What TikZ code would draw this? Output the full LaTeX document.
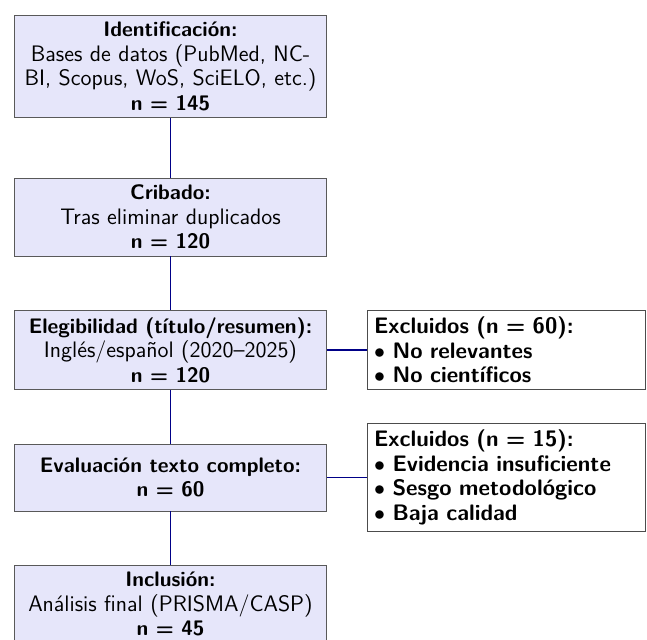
\documentclass[tikz,border=0pt]{standalone}
\usepackage{fontspec}
\usetikzlibrary{positioning}
\renewcommand{\familydefault}{\sfdefault}

\definecolor{stagefill}{RGB}{230,230,250}
\definecolor{linkblue}{RGB}{0,0,135}

\NewDocumentCommand{\bhead}{m}{{\fontsize{10.5}{12.3}\selectfont\bfseries #1}}

\tikzset{
  stage/.style={draw=black!65, fill=stagefill, text width=149.4pt, align=center,
    minimum height=33.5pt, font=\fontsize{11.2}{12.3}\selectfont},
  excl/.style={draw=black!70, fill=white, text width=132.4pt, align=left,
    font=\fontsize{11.2}{12.3}\selectfont\bfseries},
  link/.style={draw=linkblue, thick},
}

\begin{document}
\begin{tikzpicture}[x=1pt,y=1pt]
        \useasboundingbox (0,0) rectangle (323.5,-320);

        % Stages
        \node[stage] (id) at (85.25,-33.25) {\bhead{Identificación:}\\Bases de datos (PubMed, NC-\\BI, Scopus, WoS, SciELO, etc.)\\\bhead{n = 145}};
        \node[stage] (crib) at (85.25,-108.5) {\bhead{Cribado:}\\Tras eliminar duplicados\\\bhead{n = 120}};
        \node[stage] (eleg) at (85.25,-175) {\bhead{Elegibilidad (título/resumen):}\\Inglés/español (2020--2025)\\\bhead{n = 120}};
        \node[stage] (eval) at (85.25,-238.75) {\bhead{Evaluación texto completo:}\\\bhead{n = 60}};
        \node[stage] (incl) at (85.25,-302) {\bhead{Inclusión:}\\Análisis final (PRISMA/CASP)\\\bhead{n = 45}};

        % Exclusions
        \node[excl] (ex1) at (253.25,-175) {Excluidos (n = 60):\\$\bullet$ No relevantes\\$\bullet$ No científicos};
        \node[excl] (ex2) at (253.25,-238.75) {Excluidos (n = 15):\\$\bullet$ Evidencia insuficiente\\$\bullet$ Sesgo metodológico\\$\bullet$ Baja calidad};

        % Links
        \foreach \a/\b in {id/crib, crib/eleg, eleg/eval, eval/incl, eleg/ex1, eval/ex2}
          {\draw[link] (\a) -- (\b);}
    \end{tikzpicture}
\end{document}
